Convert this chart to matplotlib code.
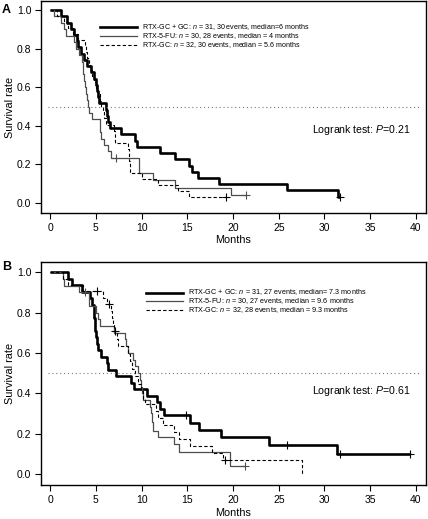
import matplotlib
matplotlib.use('Agg')
import matplotlib.pyplot as plt

plt.rcParams['font.family'] = ['Liberation Sans', 'DejaVu Sans']
plt.rcParams['mathtext.fontset'] = 'custom'
plt.rcParams['mathtext.rm'] = 'Liberation Sans'
plt.rcParams['mathtext.it'] = 'Liberation Sans:italic'

# ---- Panel A: step times (months) and survival after each step ----
a_gcgc_t = [0, 1.2, 1.8, 2.3, 2.6, 2.9, 3.1, 3.4, 3.7, 4.0, 4.5, 4.8, 5.0, 5.1, 5.2, 5.3,
            6.1, 6.2, 6.3, 6.5, 7.8, 9.3, 9.5, 12.0, 13.6, 15.2, 15.5, 16.2, 18.5, 25.9, 31.5, 31.7]
a_gcgc_s = [1.0, 0.968, 0.935, 0.903, 0.871, 0.839, 0.806, 0.774, 0.742, 0.710, 0.677, 0.645,
            0.613, 0.581, 0.548, 0.516, 0.484, 0.452, 0.419, 0.387, 0.355, 0.323, 0.290, 0.258,
            0.226, 0.194, 0.161, 0.129, 0.097, 0.065, 0.032, 0.032]
a_gcgc_cens_t = [31.7]
a_gcgc_cens_s = [0.032]

a_fu_t = [0, 0.4, 1.2, 1.5, 1.7, 2.6, 2.8, 3.2, 3.5, 3.55, 3.6, 3.7, 3.8, 3.9, 4.0, 4.1, 4.3,
          4.6, 5.4, 5.5, 5.6, 5.9, 6.3, 6.6, 9.7, 11.3, 13.6, 19.8, 21.4]
a_fu_s = [1.0, 0.967, 0.933, 0.900, 0.867, 0.833, 0.800, 0.767, 0.733, 0.700, 0.667, 0.633,
          0.600, 0.567, 0.533, 0.500, 0.467, 0.433, 0.400, 0.367, 0.333, 0.300, 0.267, 0.233,
          0.155, 0.117, 0.078, 0.039, 0.039]
a_fu_cens_t = [7.2, 21.4]
a_fu_cens_s = [0.233, 0.039]

a_gc_t = [0, 0.7, 1.5, 2.0, 2.5, 3.0, 3.8, 3.9, 4.0, 4.2, 4.4, 4.6, 4.8, 5.0, 5.2, 5.4, 5.6,
          5.8, 5.9, 6.1, 7.0, 7.05, 7.1, 8.5, 8.6, 8.65, 8.7, 8.75, 10.0, 11.8, 14.0, 15.2, 19.2]
a_gc_s = [1.0, 0.969, 0.938, 0.906, 0.875, 0.844, 0.813, 0.781, 0.750, 0.719, 0.688, 0.656,
          0.625, 0.594, 0.563, 0.531, 0.500, 0.469, 0.438, 0.406, 0.375, 0.344, 0.313, 0.281,
          0.250, 0.219, 0.188, 0.156, 0.125, 0.094, 0.063, 0.031, 0.031]
a_gc_cens_t = [19.2]
a_gc_cens_s = [0.031]

# ---- Panel B ----
b_gcgc_t = [0, 1.9, 2.4, 3.5, 4.4, 4.6, 4.8, 4.85, 4.9, 4.95, 5.0, 5.1, 5.2, 5.6, 6.2, 6.3,
            7.2, 8.85, 9.2, 10.6, 11.7, 12.0, 12.5, 15.3, 16.3, 18.65, 23.9, 31.4, 39.4]
b_gcgc_s = [1.0, 0.968, 0.935, 0.903, 0.871, 0.839, 0.806, 0.774, 0.742, 0.710, 0.677, 0.645,
            0.613, 0.581, 0.548, 0.516, 0.484, 0.452, 0.419, 0.387, 0.355, 0.323, 0.290, 0.254,
            0.218, 0.181, 0.145, 0.097, 0.097]
b_gcgc_cens_t = [14.9, 25.9, 31.7, 39.4]
b_gcgc_cens_s = [0.290, 0.145, 0.097, 0.097]

b_fu_t = [0, 1.4, 1.5, 3.2, 4.2, 4.3, 5.0, 5.2, 5.4, 7.0, 8.2, 8.3, 8.5, 9.1, 9.3, 9.6, 9.8,
          9.9, 10.0, 10.2, 10.9, 11.0, 11.1, 11.2, 11.8, 13.5, 14.1, 19.7, 21.3]
b_fu_s = [1.0, 0.967, 0.933, 0.900, 0.867, 0.833, 0.800, 0.767, 0.733, 0.700, 0.667, 0.633,
          0.600, 0.567, 0.533, 0.500, 0.467, 0.433, 0.400, 0.367, 0.333, 0.300, 0.258, 0.215,
          0.185, 0.148, 0.111, 0.037, 0.037]
b_fu_cens_t = [3.8, 21.3]
b_fu_cens_s = [0.900, 0.037]

b_gc_t = [0, 1.4, 2.0, 3.6, 5.8, 6.2, 6.6, 6.8, 6.9, 7.0, 7.3, 7.4, 8.5, 8.7, 9.0, 9.3, 9.6,
          9.9, 10.2, 10.4, 11.6, 11.8, 12.3, 13.5, 14.1, 15.3, 17.7, 18.9, 27.5]
b_gc_s = [1.0, 0.969, 0.938, 0.906, 0.874, 0.842, 0.808, 0.775, 0.741, 0.707, 0.670, 0.633,
          0.596, 0.559, 0.522, 0.484, 0.447, 0.410, 0.373, 0.345, 0.310, 0.276, 0.241, 0.207,
          0.172, 0.138, 0.103, 0.069, 0.0]
b_gc_cens_t = [5.1, 6.4, 7.1, 19.1]
b_gc_cens_s = [0.906, 0.842, 0.707, 0.069]

labels_a = ['RTX-GC + GC: $n$ = 31, 30 events, median=6 months',
            'RTX-5-FU: $n$ = 30, 28 events, median = 4 months',
            'RTX-GC: $n$ = 32, 30 events, median = 5.6 months']
labels_b = ['RTX-GC + GC: $n$ = 31, 27 events, median= 7.3 months',
            'RTX-5-FU: $n$ = 30, 27 events, median = 9.6 months',
            'RTX-GC: $n$ = 32, 28 events, median = 9.3 months']

styles = [dict(color='black', lw=1.9, ls='-'),
          dict(color='#4d4d4d', lw=0.9, ls='-'),
          dict(color='black', lw=0.8, ls=(0, (3, 2)))]


def draw_panel(ax, curves, labels, ptext, ptext_y, leg, legsize):
    for (t, s, ct, cs), st in zip(curves, styles):
        ax.step(t, s, where='post', solid_capstyle='butt', **st)
        ax.plot(ct, cs, ls='none', marker='+', ms=6, mew=0.8, color=st['color'])
    ax.hlines(0.5, -0.2, 40.5, colors='#777777', linestyles=(0, (1, 2.5)), lw=0.8)
    x0, x1, xt, ys = leg
    for y, lab, st in zip(ys, labels, styles):
        ax.plot([x0, x1], [y, y], transform=ax.transAxes, **st)
        ax.text(xt, y, lab, transform=ax.transAxes, fontsize=legsize, va='center', ha='left')
    ax.text(39.4, ptext_y, ptext, fontsize=7.6, ha='right', va='center')
    ax.set_xlim(-1, 41.1)
    ax.set_xticks([0, 5, 10, 15, 20, 25, 30, 35, 40])
    ax.set_yticks([0.0, 0.2, 0.4, 0.6, 0.8, 1.0])
    ax.set_yticklabels(['0.0', '0.2', '0.4', '0.6', '0.8', '1.0'])
    ax.tick_params(labelsize=7.5, length=4, width=0.8, direction='out', pad=3)
    for sp in ax.spines.values():
        sp.set_linewidth(1.0)
    ax.set_xlabel('Months', fontsize=7.8, labelpad=2)
    ax.set_ylabel('Survival rate', fontsize=7.8)
    ax.yaxis.set_label_coords(-0.068, 0.5)


fig = plt.figure(figsize=(4.28, 5.19), dpi=100)
ax_a = fig.add_axes([0.0958, 0.5896, 0.8995, 0.4085])
ax_b = fig.add_axes([0.0958, 0.0655, 0.8995, 0.4297])

draw_panel(ax_a,
           [(a_gcgc_t, a_gcgc_s, a_gcgc_cens_t, a_gcgc_cens_s),
            (a_fu_t, a_fu_s, a_fu_cens_t, a_fu_cens_s),
            (a_gc_t, a_gc_s, a_gc_cens_t, a_gc_cens_s)],
           labels_a, 'Logrank test: $P$=0.21', 0.378,
           (0.153, 0.249, 0.262, [0.876, 0.834, 0.792]), 5.1)
ax_a.set_ylim(-0.052, 1.047)

draw_panel(ax_b,
           [(b_gcgc_t, b_gcgc_s, b_gcgc_cens_t, b_gcgc_cens_s),
            (b_fu_t, b_fu_s, b_fu_cens_t, b_fu_cens_s),
            (b_gc_t, b_gc_s, b_gc_cens_t, b_gc_cens_s)],
           labels_b, 'Logrank test: $P$=0.61', 0.413,
           (0.272, 0.368, 0.382, [0.863, 0.823, 0.783]), 5.2)
ax_b.set_ylim(-0.055, 1.051)

fig.text(0.005, 0.993, 'A', fontsize=9, fontweight='bold', ha='left', va='top')
fig.text(0.005, 0.497, 'B', fontsize=9, fontweight='bold', ha='left', va='top')

fig.savefig('out.png', dpi=100)
